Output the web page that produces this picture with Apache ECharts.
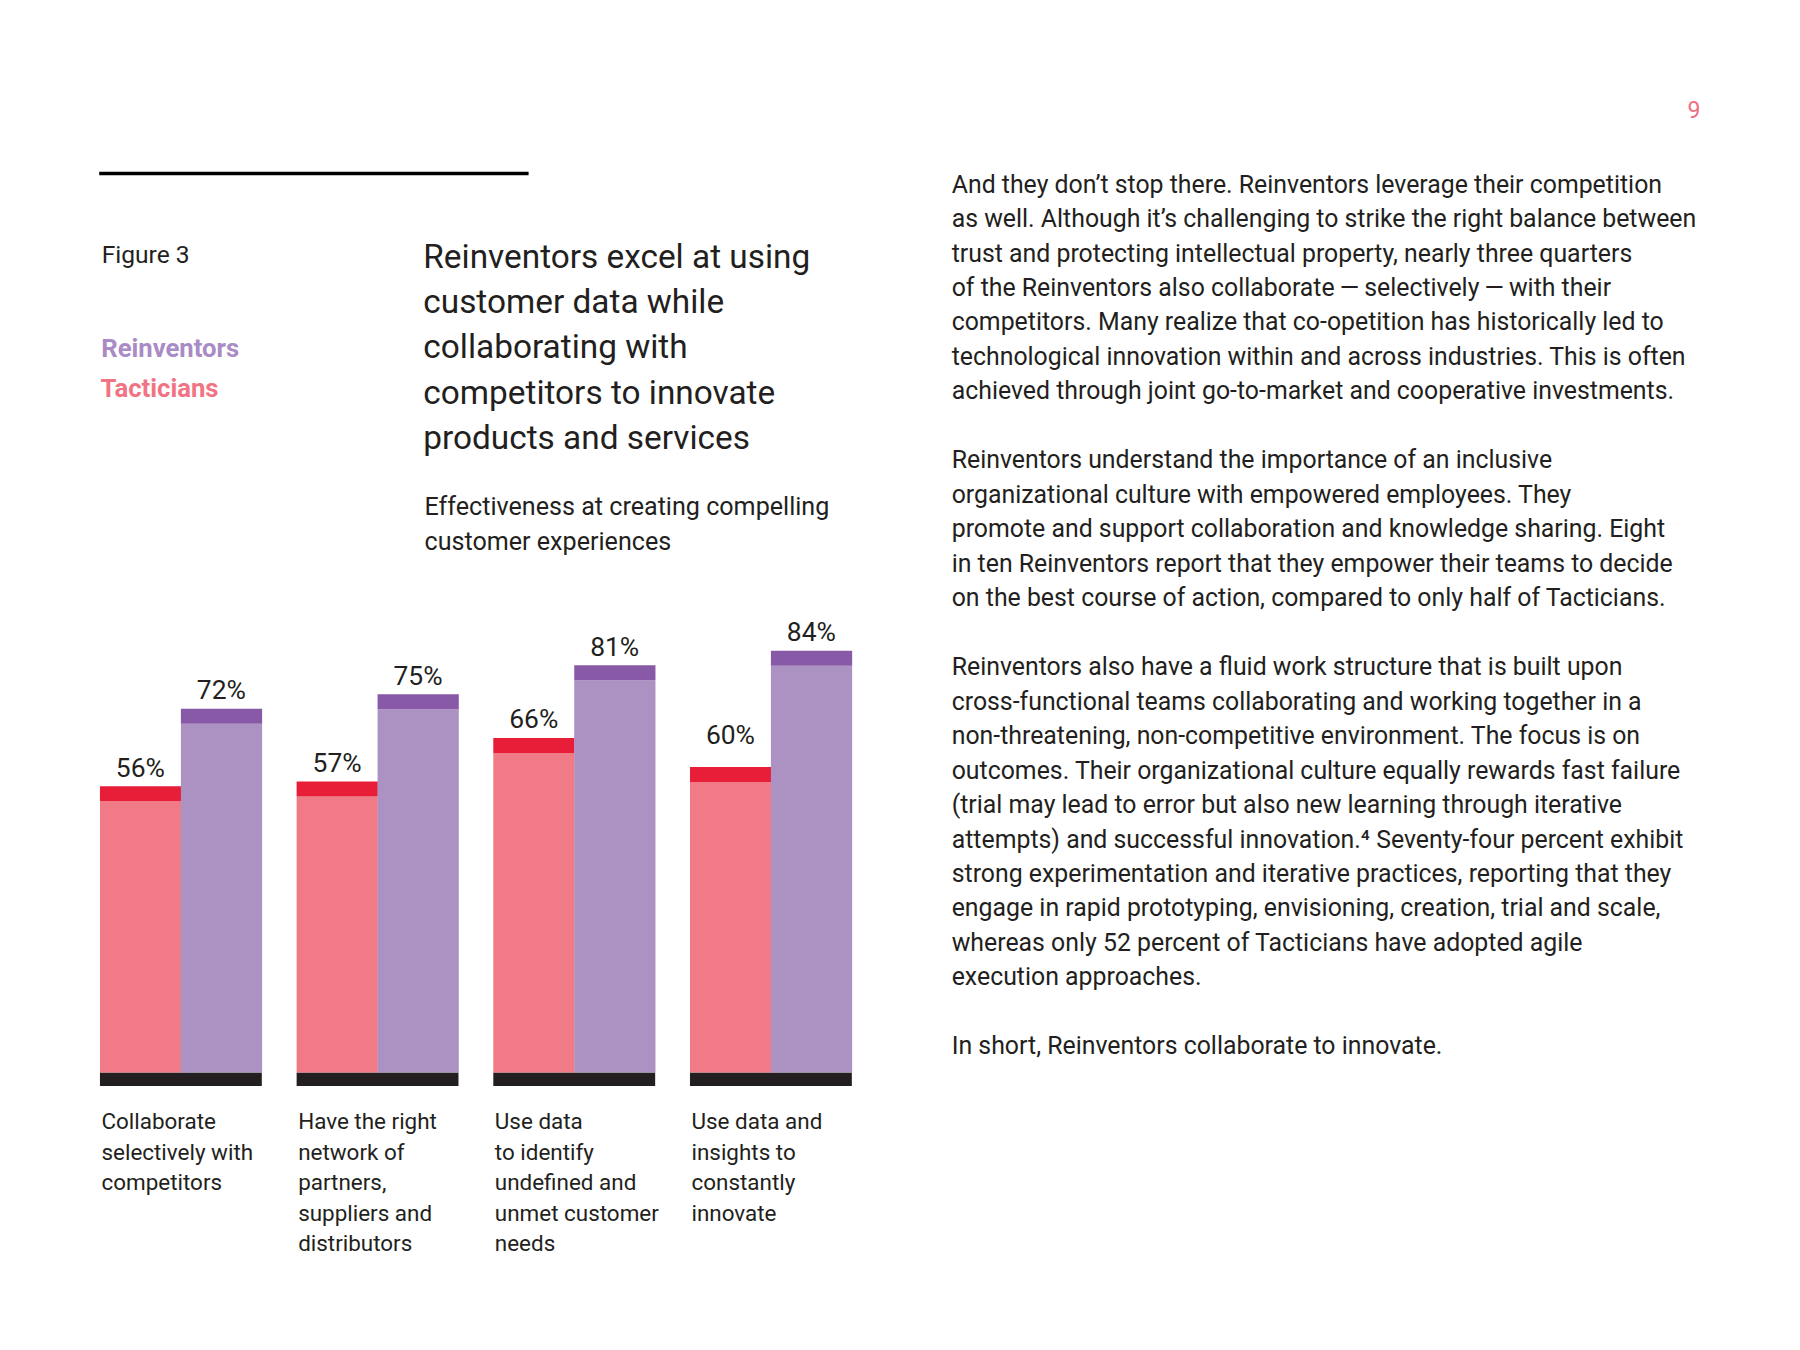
<!DOCTYPE html>
<html>
<head>
<meta charset="utf-8">
<script src="https://cdn.jsdelivr.net/npm/echarts@6/dist/echarts.min.js"></script>
<style>
html,body{margin:0;padding:0;background:#fff;}
#chart{width:1800px;height:1350px;}
</style>
</head>
<body>
<div id="chart"></div>
<script>
// ---------- data ----------
const categories = [
  'Collaborate\nselectively with\ncompetitors',
  'Have the right\nnetwork of\npartners,\nsuppliers and\ndistributors',
  'Use data\nto identify\nundefined and\nunmet customer\nneeds',
  'Use data and\ninsights to\nconstantly\ninnovate'
];
const tacticians = [56, 57, 66, 60];
const reinventors = [72, 75, 81, 84];
const seriesNames = ['Tacticians', 'Reinventors'];

// ---------- text ----------
const pageNumber = '9';
const figureLabel = 'Figure 3';
const titleLines = [
  'Reinventors excel at using',
  'customer data while',
  'collaborating with',
  'competitors to innovate',
  'products and services'
];
const subtitleLines = [
  'Effectiveness at creating compelling',
  'customer experiences'
];
const bodyLines = [
  'And they don\u2019t stop there. Reinventors leverage their competition',
  'as well. Although it\u2019s challenging to strike the right balance between',
  'trust and protecting intellectual property, nearly three quarters',
  'of the Reinventors also collaborate\u2009\u2014\u2009selectively\u2009\u2014\u2009with their',
  'competitors. Many realize that co-opetition has historically led to',
  'technological innovation within and across industries. This is often',
  'achieved through joint go-to-market and cooperative investments.',
  '',
  'Reinventors understand the importance of an inclusive',
  'organizational culture with empowered employees. They',
  'promote and support collaboration and knowledge sharing. Eight',
  'in ten Reinventors report that they empower their teams to decide',
  'on the best course of action, compared to only half of Tacticians.',
  '',
  'Reinventors also have a fluid work structure that is built upon',
  'cross-functional teams collaborating and working together in a',
  'non-threatening, non-competitive environment. The focus is on',
  'outcomes. Their organizational culture equally rewards fast failure',
  '(trial may lead to error but also new learning through iterative',
  'attempts) and successful innovation.\u2074 Seventy-four percent exhibit',
  'strong experimentation and iterative practices, reporting that they',
  'engage in rapid prototyping, envisioning, creation, trial and scale,',
  'whereas only 52 percent of Tacticians have adopted agile',
  'execution approaches.',
  '',
  'In short, Reinventors collaborate to innovate.'
];

// ---------- style ----------
const FONT = 'Roboto, "Noto Sans", sans-serif';
const INK = '#231f20';
const COLORS = {
  tBody: '#f07b87', tCap: '#e81d37',
  rBody: '#ac91c3', rCap: '#8759a6',
  base: '#231f20',
  legendR: '#a98bc5', legendT: '#f07483', page: '#ef6e7f'
};
const GAP = 0.177;     // fraction of band left empty between groups
const CAP = 15;        // px height of darker cap
const BASE_H = 13.7;   // px height of black base
const MID = 0.33;      // middle-to-baseline factor
const LABEL_GAP = 10.5;
// extra upward shift (px) of individual value labels, per series, as in the original layout
const labelLift = [[0, 0, 0, 13.5], [0, 0, 0, 0]];

const mctx = document.createElement('canvas').getContext('2d');
function fit(text, weight, nominal, target) {
  mctx.font = weight + ' ' + nominal + 'px ' + FONT;
  const w = mctx.measureText(text).width;
  const s = nominal * target / w;
  return Math.max(nominal * 0.85, Math.min(nominal * 1.15, s));
}
const fsBody = fit(bodyLines[1], 'normal', 24.5, 745);
const fsTitle = fit(titleLines[0], 'normal', 34, 387);
const fsSub = fit(subtitleLines[0], 'normal', 24, 405);
const fsFig = fit(figureLabel, 'normal', 22, 88);
const fsLegend = fit('Reinventors', 'bold', 25, 138);
const fsCat = fit('selectively with', 'normal', 21.5, 151.7);
const fsVal = fit('66%', 'normal', 23, 50.7);

// top-left y for a text block whose first baseline is b and line height L
function topFor(b, L, fs) { return b - L / 2 - MID * fs; }

function textBlock(lines, x, baseline, L, fs, fill, weight) {
  return {
    type: 'text', x: x, y: topFor(baseline, L, fs), silent: true,
    style: {
      text: lines.join('\n'), fontSize: fs, fontFamily: FONT,
      fontWeight: weight || 'normal', fill: fill, lineHeight: L,
      align: 'left', verticalAlign: 'top'
    }
  };
}

function barRenderer(k, bodyColor, capColor) {
  return function (params, api) {
    const i = api.value(0), v = api.value(1);
    const band = api.size([1, 0])[0];
    const groupW = band * (1 - GAP);
    const barW = groupW / 2;
    const top = api.coord([i, v]);
    const zero = api.coord([i, 0]);
    const x0 = top[0] - groupW / 2 + k * barW;
    const capTop = top[1] - CAP;
    const labelBaseline = capTop - LABEL_GAP - labelLift[k][i];
    return {
      type: 'group',
      children: [
        { type: 'rect', shape: { x: x0, y: top[1], width: barW + 0.3, height: zero[1] - top[1] }, style: { fill: bodyColor } },
        { type: 'rect', shape: { x: x0, y: capTop, width: barW + 0.3, height: CAP }, style: { fill: capColor } },
        { type: 'text', x: x0 + barW / 2, y: labelBaseline - MID * fsVal,
          style: { text: v + '%', fontSize: fsVal, fontFamily: FONT, fill: INK, align: 'center', verticalAlign: 'middle' } }
      ]
    };
  };
}

function baseRenderer(params, api) {
  const i = api.value(0);
  const band = api.size([1, 0])[0];
  const groupW = band * (1 - GAP);
  const zero = api.coord([i, 0]);
  const x0 = zero[0] - groupW / 2;
  const L = 30.5;
  return {
    type: 'group',
    children: [
      { type: 'rect', shape: { x: x0, y: zero[1], width: groupW, height: BASE_H }, style: { fill: COLORS.base } },
      { type: 'text', x: x0 + 1.5, y: topFor(1128.5, L, fsCat),
        style: { text: categories[i], fontSize: fsCat, fontFamily: FONT, fill: INK, lineHeight: L, align: 'left', verticalAlign: 'top' } }
    ]
  };
}

const chart = echarts.init(document.getElementById('chart'), null, { renderer: 'svg', width: 1800, height: 1350 });

const option = {
  backgroundColor: '#ffffff',
  animation: false,
  grid: { left: 82.55, width: 786.7, top: 588.3, height: 484.1 },
  xAxis: { type: 'category', data: categories, show: false },
  yAxis: { type: 'value', min: 0, max: 100, show: false },
  series: [
    { type: 'custom', name: 'base', data: categories.map((c, i) => [i, 0]), encode: { x: 0, y: 1 }, renderItem: baseRenderer, silent: true, z: 1 },
    { type: 'custom', name: seriesNames[0], data: tacticians.map((v, i) => [i, v]), encode: { x: 0, y: 1 }, renderItem: barRenderer(0, COLORS.tBody, COLORS.tCap), silent: true, z: 2 },
    { type: 'custom', name: seriesNames[1], data: reinventors.map((v, i) => [i, v]), encode: { x: 0, y: 1 }, renderItem: barRenderer(1, COLORS.rBody, COLORS.rCap), silent: true, z: 2 }
  ],
  graphic: [
    { type: 'line', silent: true, shape: { x1: 99.2, y1: 173.5, x2: 528.6, y2: 173.5 }, style: { stroke: '#000', lineWidth: 3.5 } },
    { type: 'text', x: 1694, y: 118.3 - MID * 23, silent: true,
      style: { text: pageNumber, fontSize: 23, fontFamily: FONT, fill: COLORS.page, align: 'center', verticalAlign: 'middle' } },
    textBlock([figureLabel], 101.7, 263, 30, fsFig, INK),
    textBlock([seriesNames[1]], 101.2, 356, 30, fsLegend, COLORS.legendR, 'bold'),
    textBlock([seriesNames[0]], 100.5, 396, 30, fsLegend, COLORS.legendT, 'bold'),
    textBlock(titleLines, 423.3, 267.3, 45.25, fsTitle, INK),
    textBlock(subtitleLines, 424.5, 515, 35, fsSub, INK),
    textBlock(bodyLines, 951.7, 192.3, 34.47, fsBody, INK)
  ]
};
chart.setOption(option);
</script>
</body>
</html>
